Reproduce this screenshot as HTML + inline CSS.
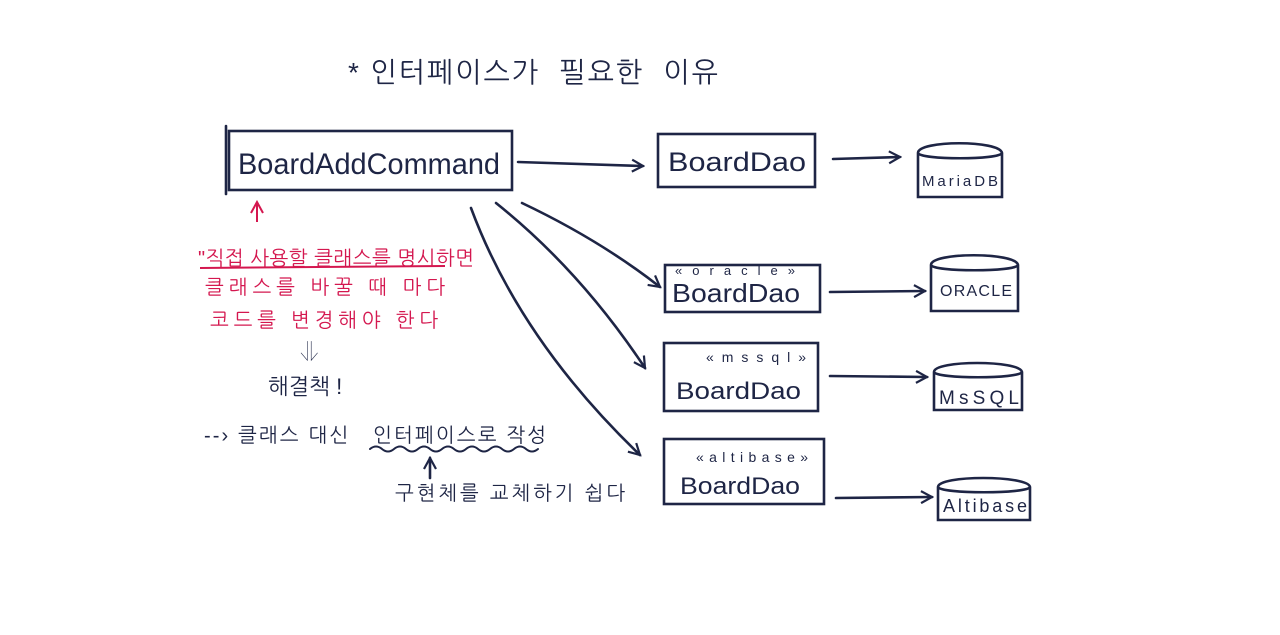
<!DOCTYPE html>
<html><head><meta charset="utf-8">
<style>
html,body{margin:0;padding:0;background:#fff;}
svg{display:block}
text{font-family:"Liberation Sans","NanumGothic","Noto Sans CJK KR",sans-serif;}
</style></head>
<body>
<svg width="1280" height="635" viewBox="0 0 1280 635" xmlns="http://www.w3.org/2000/svg">
<defs>
<marker id="ah" markerWidth="14" markerHeight="14" refX="12" refY="7" orient="auto" markerUnits="userSpaceOnUse">
<path d="M1,1 L12,7 L1,13" fill="none" stroke="#1e2545" stroke-width="2.2"/>
</marker>
<marker id="ar" markerWidth="14" markerHeight="14" refX="12" refY="7" orient="auto" markerUnits="userSpaceOnUse">
<path d="M1,1 L12,7 L1,13" fill="none" stroke="#d4174f" stroke-width="2"/>
</marker>
</defs>
<text x="348" y="82" font-size="28" fill="#1e2545" textLength="370">* 인터페이스가&#160;&#160;필요한&#160;&#160;이유</text>

<g fill="none" stroke="#1e2545" stroke-width="2.6" stroke-linecap="round">
<rect x="229" y="131" width="283" height="59"/>
<line x1="226" y1="126" x2="226" y2="194"/>
<rect x="658" y="134" width="157" height="53"/>
<rect x="665" y="265" width="155" height="47"/>
<rect x="664" y="343" width="154" height="68"/>
<rect x="664" y="439" width="160" height="65"/>

<path d="M918,153 L918,197 L1002,197 L1002,153 M918,153 C918,140 1000,140 1002,153 C1000,160 920,160 918,153"/>
<path d="M931,265 L931,311 L1018,311 L1018,265 M931,265 C931,252 1016,252 1018,265 C1016,272 933,272 931,265"/>
<path d="M934,372 L934,410 L1022,410 L1022,372 M934,372 C934,360 1020,360 1022,372 C1020,379 936,379 934,372"/>
<path d="M938,487 L938,520 L1030,520 L1030,487 M938,487 C938,475 1028,475 1030,487 C1028,494 940,494 938,487"/>

<line x1="518" y1="162" x2="643" y2="166" marker-end="url(#ah)"/>
<line x1="833" y1="159" x2="900" y2="157" marker-end="url(#ah)"/>
<line x1="830" y1="292" x2="925" y2="291" marker-end="url(#ah)"/>
<line x1="830" y1="376" x2="927" y2="377" marker-end="url(#ah)"/>
<line x1="836" y1="498" x2="932" y2="497" marker-end="url(#ah)"/>
<path d="M522,203 Q600,240 660,287" marker-end="url(#ah)"/>
<path d="M496,203 Q580,270 645,368" marker-end="url(#ah)"/>
<path d="M471,208 Q520,340 640,455" marker-end="url(#ah)"/>
<line x1="430" y1="478" x2="430" y2="458" marker-end="url(#ah)"/>
<path d="M370,449 q6,-5 12,0 t12,0 t12,0 t12,0 t12,0 t12,0 t12,0 t12,0 t12,0 t12,0 t12,0 t12,0 t12,0 t12,0" stroke-width="2"/>
</g>

<g fill="#1e2545">
<text x="238" y="174" font-size="30" textLength="262" lengthAdjust="spacingAndGlyphs">BoardAddCommand</text>
<text x="668" y="171" font-size="27" textLength="138" lengthAdjust="spacingAndGlyphs">BoardDao</text>
<text x="672" y="302" font-size="26" textLength="128" lengthAdjust="spacingAndGlyphs">BoardDao</text>
<text x="675" y="275" font-size="13" textLength="120">«oracle»</text>
<text x="676" y="399" font-size="24" textLength="125" lengthAdjust="spacingAndGlyphs">BoardDao</text>
<text x="706" y="362" font-size="14" textLength="100">«mssql»</text>
<text x="680" y="494" font-size="24" textLength="120" lengthAdjust="spacingAndGlyphs">BoardDao</text>
<text x="696" y="462" font-size="14" textLength="112">«altibase»</text>
<text x="922" y="186" font-size="15" textLength="76">MariaDB</text>
<text x="940" y="296" font-size="16" textLength="72">ORACLE</text>
<text x="939" y="404" font-size="19" textLength="80">MsSQL</text>
<text x="943" y="512" font-size="18" textLength="84">Altibase</text>
<text x="300" y="358" font-size="20">⇓</text>
<text x="268" y="394" font-size="22">해결책 !</text>
<text x="204" y="442" font-size="20" textLength="342">--› 클래스 대신&#160;&#160;&#160;인터페이스로 작성</text>
<text x="395" y="500" font-size="20" textLength="230">구현체를 교체하기 쉽다</text>
</g>

<g fill="#d4174f">
<text x="198" y="265" font-size="20" textLength="276">"직접 사용할 클래스를 명시하면</text>
<text x="205" y="294" font-size="20" textLength="240">클래스를 바꿀 때 마다</text>
<text x="210" y="327" font-size="20" textLength="228">코드를 변경해야 한다</text>
</g>
<g stroke="#d4174f" stroke-width="2" fill="none">
<line x1="257" y1="222" x2="257" y2="202" marker-end="url(#ar)"/>
<line x1="200" y1="268" x2="445" y2="266"/>
</g>
</svg>
</body></html>
